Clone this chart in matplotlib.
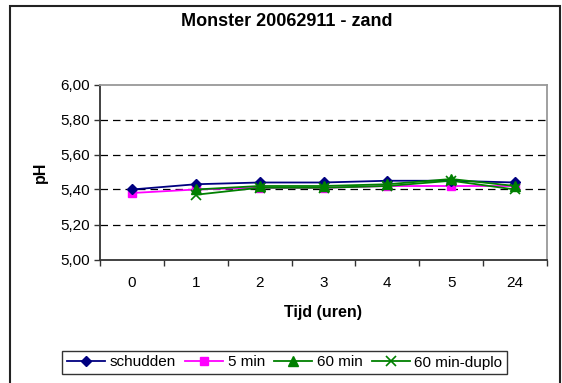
import matplotlib
matplotlib.use("Agg")
import matplotlib.pyplot as plt
from matplotlib.patches import Rectangle
from matplotlib.ticker import FuncFormatter, FixedLocator

plt.rcParams["font.family"] = ["Liberation Sans", "DejaVu Sans"]

# ── data ──────────────────────────────────────────────────────────────────────
tijd_labels = ["0", "1", "2", "3", "4", "5", "24"]
schudden = [5.40, 5.43, 5.44, 5.44, 5.45, 5.45, 5.44]
min5 = [5.38, 5.40, 5.41, 5.41, 5.42, 5.42, 5.42]
min60 = [None, 5.40, 5.42, 5.42, 5.43, 5.46, 5.42]
min60_duplo = [None, 5.37, 5.41, 5.41, 5.42, 5.45, 5.40]


def xy(values):
    pts = [(i, v) for i, v in enumerate(values) if v is not None]
    return [p[0] for p in pts], [p[1] for p in pts]


W, H = 562, 383
fig = plt.figure(figsize=(W / 100, H / 100), dpi=100)
ax = fig.add_axes([100 / W, 1 - 259.5 / H, 447 / W, 175 / H])

# ── series ────────────────────────────────────────────────────────────────────
ax.plot(*xy(schudden), color="#000080", marker="D", ms=5, lw=1.3, label="schudden", zorder=5)
ax.plot(*xy(min5), color="#FF00FF", marker="s", ms=6, lw=1.3, label="5 min", zorder=4)
ax.plot(*xy(min60), color="#008000", marker="^", ms=7.5, lw=1.3, label="60 min", zorder=6)
ax.plot(*xy(min60_duplo), color="#008000", marker="x", ms=7.5, mew=1.2, lw=1.3,
        label="60 min-duplo", zorder=6)

# ── axes styling ─────────────────────────────────────────────────────────────
ax.set_xlim(-0.5, len(tijd_labels) - 0.5)
ax.set_ylim(5.0, 6.0)
ax.set_yticks([5.0, 5.2, 5.4, 5.6, 5.8, 6.0])
ax.yaxis.set_major_formatter(FuncFormatter(lambda v, p: f"{v:.2f}".replace(".", ",")))
ax.set_xticks(range(len(tijd_labels)))
ax.set_xticklabels(tijd_labels)
ax.xaxis.set_minor_locator(FixedLocator([i - 0.5 for i in range(len(tijd_labels) + 1)]))
ax.tick_params(axis="x", which="major", length=0, pad=12, labelsize=11)
ax.tick_params(axis="x", which="minor", length=4, width=1, color="#333333")
ax.tick_params(axis="y", length=4, width=1, color="#333333", pad=3, labelsize=11)

for y in [5.2, 5.4, 5.6, 5.8]:
    ax.axhline(y, color="black", lw=0.9, ls=(0, (6, 4)), zorder=1)

for side in ["left", "bottom"]:
    ax.spines[side].set_color("#333333")
    ax.spines[side].set_linewidth(1.3)
for side in ["top", "right"]:
    ax.spines[side].set_color("#999999")
    ax.spines[side].set_linewidth(1.3)

fig.text(287 / W, 1 - 22 / H, "Monster 20062911 - zand", ha="center", va="center",
         fontsize=13, fontweight="bold")
fig.text(323 / W, 1 - 312 / H, "Tijd (uren)", ha="center", va="center",
         fontsize=11.5, fontweight="bold")
fig.text(40 / W, 1 - 172 / H, "pH", ha="center", va="center", rotation=90,
         fontsize=11.5, fontweight="bold")

leg = fig.legend(loc="center", bbox_to_anchor=(284.5 / W, 1 - 362.5 / H), ncol=4,
                 fontsize=11, frameon=True, fancybox=False, edgecolor="black",
                 handlelength=2.5, handletextpad=0.3, columnspacing=0.6,
                 borderpad=0.3, borderaxespad=0)
leg.get_frame().set_linewidth(1.0)

# chart-area border
fig.patches.append(Rectangle((10 / W, -0.05), 550 / W, 1.05 - 6 / H,
                             transform=fig.transFigure, fill=False,
                             edgecolor="#222222", lw=1.5))

fig.savefig("out.png", dpi=100)
